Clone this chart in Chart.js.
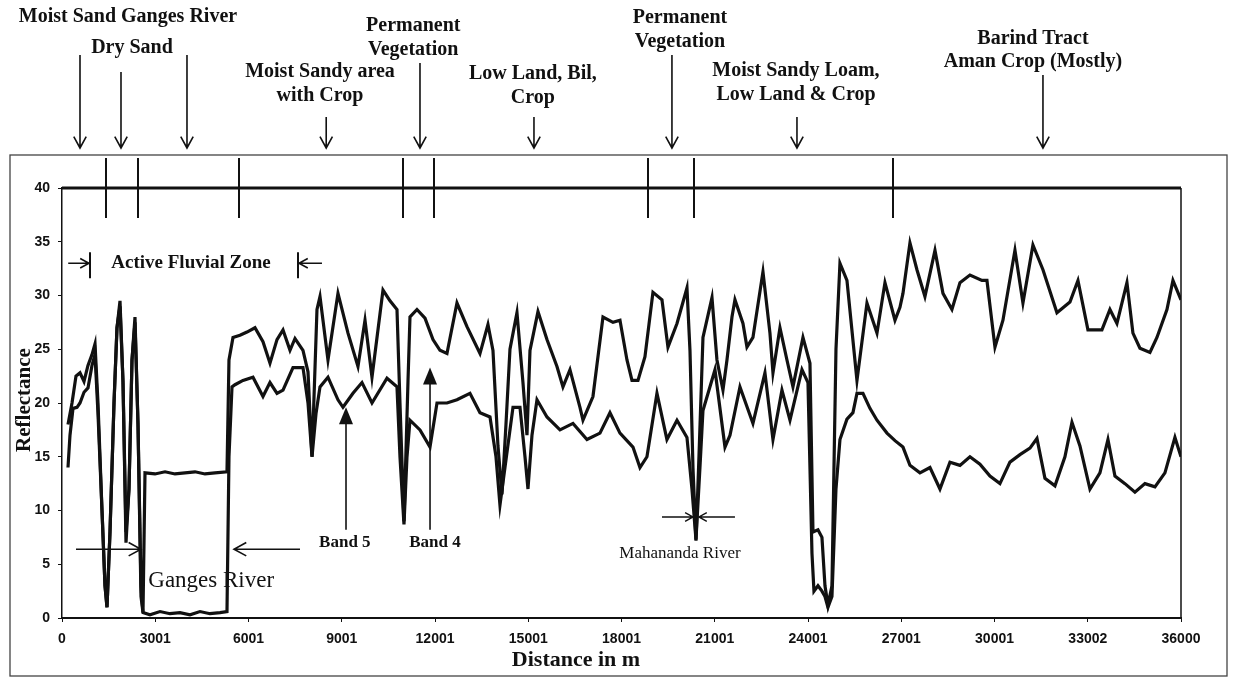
<!DOCTYPE html>
<html>
<head>
<meta charset="utf-8">
<script src="https://cdn.jsdelivr.net/npm/chart.js@4.4.0/dist/chart.umd.min.js"></script>
<style>
  html, body { margin: 0; padding: 0; background: #fff; }
</style>
</head>
<body>
<canvas id="profile" width="1234" height="678"></canvas>
<script>
// Band 4 reflectance along the transect (distance in m)
const band4Dist = [193, 322, 450, 579, 708, 836, 965, 1062, 1158, 1287, 1383, 1448, 1544, 1673, 1769, 1866, 1962, 2059, 2155, 2252, 2348, 2445, 2541, 2606,
  2670, 2992, 3314, 3635, 3957, 4279, 4600, 4922, 5308,
  5372, 5501, 5726, 5951, 6208, 6466, 6691, 6917, 7110, 7335, 7496, 7753, 7914, 8043, 8203, 8300, 8557, 8879, 9201, 9522, 9748, 9973,
  10327, 10552, 10777, 10873, 11002, 11131, 11195, 11420, 11678, 11935, 12160, 12385, 12707, 13029, 13447, 13704, 13865, 14026, 14155, 14283,
  14412, 14637, 14830, 14959, 15056, 15313, 15602, 15924, 16117, 16342, 16664, 16761, 17082, 17404, 17726, 17951, 18176, 18337, 18530, 18755,
  19012, 19302, 19495, 19785, 20106, 20203, 20299, 20396, 20492, 20621, 20911, 21071, 21264, 21393, 21554, 21650, 21908, 22036, 22229, 22551,
  22776, 22873, 23098, 23323, 23516, 23838, 24063, 24160, 24321, 24449, 24546, 24642, 24771, 24900, 25028, 25253, 25575, 25897, 26219, 26476,
  26798, 26958, 27055, 27280, 27505, 27762, 28085, 28342, 28631, 28889, 29210, 29596, 29757, 30015, 30272, 30658, 30915, 31237, 31559, 32009,
  32427, 32685, 33006, 33456, 33714, 33939, 34261, 34454, 34679, 35001, 35226, 35548, 35741, 36000];
const band4 = [18, 20, 22.5, 22.8, 22, 23.5, 24.5, 25.5, 20, 10, 3, 1, 8, 20, 27, 29.5, 22, 8, 12, 24, 28, 18, 3, 0.5,
  13.5, 13.4, 13.6, 13.4, 13.5, 13.6, 13.4, 13.5, 13.6,
  24, 26.1, 26.3, 26.6, 27.0, 25.7, 23.7, 25.9, 26.8, 24.9, 26.0, 24.9, 22.9, 15, 28.7, 29.9, 24.0, 30.2, 26.5, 23.4, 27.7, 22.4,
  30.5, 29.5, 28.7, 20, 9, 22, 28, 28.7, 27.9, 25.9, 24.9, 24.6, 29.3, 27.1, 24.6, 27.3, 24.9, 16, 11.5, 18,
  25, 28.4, 21.9, 17, 24.9, 28.5, 25.9, 23.4, 21.5, 23.1, 19.6, 18.4, 20.6, 28, 27.5, 27.7, 24.0, 22.1, 22.1, 24.3,
  30.3, 29.6, 25.2, 27.4, 30.7, 24.9, 14, 7.2, 15, 26.1, 29.8, 24, 21.2, 24, 28, 29.6, 27.4, 25.2, 26.1, 32.2,
  26.5, 22.8, 27, 24, 21.5, 26.1, 23.7, 8, 8.2, 7.5, 3, 1.2, 3, 25, 33, 31.4, 22.1, 29.3, 26.5, 31.2,
  27.7, 28.9, 30.2, 34.9, 32.4, 29.9, 34.2, 30.2, 28.7, 31.2, 31.9, 31.4, 31.4, 25.2, 27.7, 34.2, 29.3, 34.7, 32.4, 28.4,
  29.4, 31.4, 26.8, 26.8, 28.7, 27.4, 31.2, 26.5, 25.1, 24.7, 26.1, 28.7, 31.4, 29.6];

// Band 5 reflectance along the transect (distance in m)
const band5Dist = [193, 257, 354, 483, 579, 708, 836, 965, 1062, 1158, 1287, 1383, 1448, 1544, 1673, 1769, 1866, 1962, 2059, 2155, 2252, 2348, 2445, 2541, 2606,
  2831, 3153, 3474, 3796, 4118, 4439, 4761, 5083, 5308,
  5372, 5469, 5565, 5823, 6144, 6466, 6691, 6917, 7110, 7431, 7753, 7914, 8043, 8171, 8300, 8557, 8879, 9040, 9361, 9651, 9973,
  10455, 10777, 10873, 11002, 11099, 11195, 11517, 11839, 12064, 12385, 12707, 13125, 13447, 13769, 13962, 14090, 14251, 14509, 14734, 14895,
  14991, 15120, 15281, 15602, 16021, 16439, 16889, 17307, 17629, 17951, 18369, 18594, 18819, 19141, 19462, 19785, 20106, 20267, 20396, 20524,
  20621, 21007, 21329, 21490, 21811, 22229, 22615, 22873, 23162, 23420, 23806, 23999, 24128, 24192, 24321, 24449, 24546, 24642, 24771, 24900,
  25028, 25253, 25446, 25575, 25768, 25993, 26219, 26541, 26798, 27055, 27280, 27601, 27924, 28245, 28567, 28889, 29210, 29532, 29854, 30175,
  30497, 30819, 31141, 31366, 31623, 31945, 32266, 32492, 32749, 33071, 33392, 33650, 33875, 34197, 34518, 34840, 35162, 35483, 35805, 36000];
const band5 = [14, 17, 19.5, 19.6, 20, 21, 21.4, 23.5, 24.5, 19, 10, 3, 1, 8, 20, 27, 29, 22, 7, 12, 24, 27.5, 18, 2, 0.5,
  0.3, 0.6, 0.4, 0.5, 0.3, 0.6, 0.4, 0.5, 0.6,
  15, 21.5, 21.7, 22.1, 22.4, 20.6, 21.9, 20.9, 21.2, 23.3, 23.3, 20, 15, 19, 21.5, 22.4, 20.3, 19.6, 20.9, 21.9, 20.0,
  22.3, 21.5, 15, 8.7, 15, 18.4, 17.5, 15.9, 20, 20, 20.3, 20.9, 19.1, 18.7, 15, 10.5, 14, 19.6, 19.6, 15,
  12, 17, 20.3, 18.7, 17.5, 18.1, 16.6, 17.2, 19.1, 17.2, 15.9, 14, 15, 20.9, 16.6, 18.4, 16.8, 12, 7.3, 14,
  19.3, 23.1, 15.9, 17, 21.5, 18.1, 22.8, 16.6, 21.2, 18.4, 23.1, 21.9, 6, 2.5, 3, 2.5, 2, 1, 2, 12,
  16.6, 18.5, 19.1, 20.9, 20.9, 19.5, 18.4, 17.2, 16.5, 15.9, 14.2, 13.5, 14, 12, 14.5, 14.2, 15, 14.3, 13.2, 12.5,
  14.5, 15.2, 15.8, 16.7, 13, 12.3, 15, 18.2, 16, 12, 13.5, 16.6, 13.2, 12.5, 11.7, 12.5, 12.2, 13.5, 16.8, 15];

const xTickValues = [0, 3001, 6001, 9001, 12001, 15001, 18001, 21001, 24001, 27001, 30001, 33002, 36000];
// boundaries between land units, marked above the plot
const zoneBounds = [1416, 2445, 5694, 10971, 11968, 18853, 20333, 26735];

// land unit labels above the plot: distance of label centre, lines and their heights
const unitLabels = [
  { at: 2123, lines: ['Moist Sand Ganges River'], ys: [17] },
  { at: 2252, lines: ['Dry Sand'], ys: [48] },
  { at: 8300, lines: ['Moist Sandy area', 'with Crop'], ys: [72, 96] },
  { at: 11300, lines: ['Permanent', 'Vegetation'], ys: [26, 50] },
  { at: 15150, lines: ['Low Land, Bil,', 'Crop'], ys: [74, 98] },
  { at: 19881, lines: ['Permanent', 'Vegetation'], ys: [18, 42] },
  { at: 23613, lines: ['Moist Sandy Loam,', 'Low Land & Crop'], ys: [71, 95] },
  { at: 31237, lines: ['Barind Tract', 'Aman Crop (Mostly)'], ys: [39, 62] }
];
const unitArrows = [
  { at: 579, from: 55 }, { at: 1898, from: 72 }, { at: 4021, from: 55 },
  { at: 8500, from: 117 }, { at: 11517, from: 63 }, { at: 15184, from: 117 },
  { at: 19623, from: 55 }, { at: 23645, from: 117 }, { at: 31559, from: 75 }
];

const serifBold = 'bold 20px "Liberation Serif", "Times New Roman", serif';

function openArrow(ctx, x1, y1, x2, y2, head) {
  const a = Math.atan2(y2 - y1, x2 - x1);
  ctx.beginPath();
  ctx.moveTo(x1, y1);
  ctx.lineTo(x2, y2);
  ctx.moveTo(x2 - head * Math.cos(a - 0.5), y2 - head * Math.sin(a - 0.5));
  ctx.lineTo(x2, y2);
  ctx.lineTo(x2 - head * Math.cos(a + 0.5), y2 - head * Math.sin(a + 0.5));
  ctx.stroke();
}

function solidArrowUp(ctx, x, yBase, yTip) {
  ctx.beginPath();
  ctx.moveTo(x, yBase);
  ctx.lineTo(x, yTip + 12);
  ctx.stroke();
  ctx.beginPath();
  ctx.moveTo(x, yTip);
  ctx.lineTo(x - 7, yTip + 17);
  ctx.lineTo(x + 7, yTip + 17);
  ctx.closePath();
  ctx.fill();
}

const annotate = {
  id: 'annotate',
  afterDraw(chart) {
    const { ctx, chartArea: area } = chart;
    const x = chart.scales.x, y = chart.scales.y;
    ctx.save();
    ctx.strokeStyle = '#111';
    ctx.fillStyle = '#111';

    // outer frame
    ctx.lineWidth = 1.3;
    ctx.strokeStyle = '#444';
    ctx.strokeRect(10, 155, 1217, 521);

    // plot frame: heavy top edge, light right edge
    ctx.strokeStyle = '#111';
    ctx.lineWidth = 3;
    ctx.beginPath();
    ctx.moveTo(area.left, area.top);
    ctx.lineTo(area.right, area.top);
    ctx.stroke();
    ctx.lineWidth = 1.5;
    ctx.beginPath();
    ctx.moveTo(area.right, area.top);
    ctx.lineTo(area.right, area.bottom);
    ctx.stroke();

    // land unit boundaries
    ctx.lineWidth = 2;
    zoneBounds.forEach(d => {
      const px = x.getPixelForValue(d);
      ctx.beginPath();
      ctx.moveTo(px, 158);
      ctx.lineTo(px, area.top + 30);
      ctx.stroke();
    });

    // land unit labels and arrows
    ctx.font = serifBold;
    ctx.textAlign = 'center';
    ctx.textBaseline = 'middle';
    unitLabels.forEach(u => {
      const px = x.getPixelForValue(u.at);
      u.lines.forEach((t, i) => ctx.fillText(t, px, u.ys[i]));
    });
    ctx.lineWidth = 1.6;
    unitArrows.forEach(a => {
      const px = x.getPixelForValue(a.at);
      openArrow(ctx, px, a.from, px, 148, 13);
    });

    // active fluvial zone
    const yz = y.getPixelForValue(33);
    const zl = x.getPixelForValue(900), zr = x.getPixelForValue(7592);
    ctx.lineWidth = 1.6;
    openArrow(ctx, x.getPixelForValue(200), yz, zl - 1, yz, 10);
    openArrow(ctx, x.getPixelForValue(8364), yz, zr + 1, yz, 10);
    ctx.lineWidth = 2;
    [zl, zr].forEach(px => {
      ctx.beginPath();
      ctx.moveTo(px, yz - 11);
      ctx.lineTo(px, yz + 15);
      ctx.stroke();
    });
    ctx.font = 'bold 19px "Liberation Serif", serif';
    ctx.fillText('Active Fluvial Zone', x.getPixelForValue(4150), yz);

    // Ganges river channel
    const yg = y.getPixelForValue(6.4);
    ctx.lineWidth = 1.6;
    openArrow(ctx, x.getPixelForValue(450), yg, x.getPixelForValue(2540), yg, 14);
    openArrow(ctx, x.getPixelForValue(7657), yg, x.getPixelForValue(5533), yg, 14);
    ctx.font = '23px "Liberation Serif", serif';
    ctx.fillText('Ganges River', x.getPixelForValue(4800), y.getPixelForValue(3.4));

    // band pointers
    ctx.lineWidth = 1.6;
    solidArrowUp(ctx, x.getPixelForValue(9137), y.getPixelForValue(8.2), y.getPixelForValue(19.6));
    solidArrowUp(ctx, x.getPixelForValue(11840), y.getPixelForValue(8.2), y.getPixelForValue(23.3));
    ctx.font = 'bold 17px "Liberation Serif", serif';
    ctx.fillText('Band 5', x.getPixelForValue(9100), y.getPixelForValue(7.0));
    ctx.fillText('Band 4', x.getPixelForValue(12000), y.getPixelForValue(7.0));

    // Mahananda river
    const ym = y.getPixelForValue(9.4);
    ctx.lineWidth = 1.4;
    openArrow(ctx, x.getPixelForValue(19302), ym, x.getPixelForValue(20300), ym, 9);
    openArrow(ctx, x.getPixelForValue(21650), ym, x.getPixelForValue(20490), ym, 9);
    ctx.beginPath();
    ctx.moveTo(x.getPixelForValue(20396), ym - 7);
    ctx.lineTo(x.getPixelForValue(20396), ym + 7);
    ctx.stroke();
    ctx.font = '17px "Liberation Serif", serif';
    ctx.fillText('Mahananda River', x.getPixelForValue(19881), y.getPixelForValue(6.0));

    // axis titles
    ctx.font = 'bold 22px "Liberation Serif", serif';
    ctx.fillText('Distance in m', 576, 660);
    ctx.save();
    ctx.translate(25, 400);
    ctx.rotate(-Math.PI / 2);
    ctx.font = 'bold 21px "Liberation Serif", serif';
    ctx.fillText('Reflectance', 0, 0);
    ctx.restore();

    ctx.restore();
  }
};

const tickFont = { family: '"Liberation Sans", Arial, sans-serif', size: 14, weight: 'bold' };

new Chart(document.getElementById('profile'), {
  type: 'line',
  data: {
    datasets: [{
      label: 'Band 4',
      data: band4Dist.map((d, i) => ({ x: d, y: band4[i] })),
      borderColor: '#111',
      borderWidth: 3.2,
      pointRadius: 0,
      tension: 0
    }, {
      label: 'Band 5',
      data: band5Dist.map((d, i) => ({ x: d, y: band5[i] })),
      borderColor: '#111',
      borderWidth: 3.2,
      pointRadius: 0,
      tension: 0
    }]
  },
  options: {
    responsive: false,
    animation: false,
    devicePixelRatio: 1,
    layout: { padding: { top: 188, right: 53, bottom: 0, left: 0 } },
    plugins: { legend: { display: false }, tooltip: { enabled: false } },
    scales: {
      x: {
        type: 'linear',
        min: 0,
        max: 36000,
        afterBuildTicks: scale => { scale.ticks = xTickValues.map(v => ({ value: v })); },
        afterFit: scale => { scale.height = 60; },
        ticks: {
          autoSkip: false,
          maxRotation: 0,
          padding: 9,
          color: '#111',
          font: tickFont,
          callback: v => String(v)
        },
        grid: { drawOnChartArea: false, drawTicks: true, tickLength: 4, color: '#111' },
        border: { color: '#111', width: 2 }
      },
      y: {
        min: 0,
        max: 40,
        afterFit: scale => { scale.width = 62; },
        ticks: { stepSize: 5, padding: 8, color: '#111', font: tickFont },
        grid: { drawOnChartArea: false, drawTicks: true, tickLength: 4, color: '#111' },
        border: { color: '#111', width: 1.5 }
      }
    }
  },
  plugins: [annotate]
});
</script>
</body>
</html>
